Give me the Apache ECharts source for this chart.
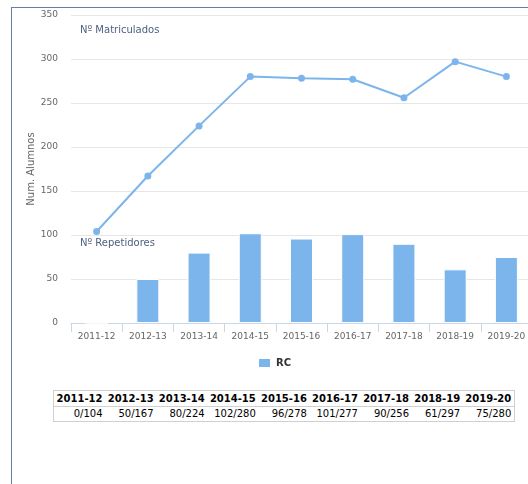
<!DOCTYPE html>
<html><head><meta charset="utf-8">
<script src="https://cdn.jsdelivr.net/npm/echarts@6/dist/echarts.min.js"></script>
<style>
html,body{margin:0;padding:0;background:#fff;}
#frame{position:absolute;left:11px;top:7px;width:540px;height:500px;border-left:1px solid #6080a8;border-top:1px solid #6080a8;}
#chart{position:absolute;left:0;top:0;width:528px;height:384px;}
#tbl{position:absolute;left:53px;top:390px;border-collapse:collapse;border:1px solid #d0d0d0;font-family:"DejaVu Sans",sans-serif;font-size:10px;color:#000;}
#tbl th{font-weight:bold;padding:0 2.6px;height:15px;line-height:15px;border-bottom:1px solid #d0d0d0;white-space:nowrap;}
#tbl td{text-align:right;padding:0 2.6px;height:14px;line-height:14px;white-space:nowrap;}
</style></head>
<body>
<div id="frame"></div>
<div id="chart"></div>
<table id="tbl"><thead><tr id="hrow"></tr></thead><tbody><tr id="drow"></tr></tbody></table>
<script>
var categories = ['2011-12','2012-13','2013-14','2014-15','2015-16','2016-17','2017-18','2018-19','2019-20'];
var repetidores = [0,50,80,102,96,101,90,61,75];
var matriculados = [104,167,224,280,278,277,256,297,280];
var yTicks = [0,50,100,150,200,250,300,350];

var hrow = document.getElementById('hrow'), drow = document.getElementById('drow');
categories.forEach(function(c,i){
  var th=document.createElement('th'); th.textContent=c; hrow.appendChild(th);
  var td=document.createElement('td'); td.textContent=repetidores[i]+'/'+matriculados[i]; drow.appendChild(td);
});

var chart = echarts.init(document.getElementById('chart'), null, {renderer:'canvas'});
var font = '"DejaVu Sans", sans-serif';
chart.setOption({
  animation:false,
  grid:{left:71,top:15,width:461,height:308,containLabel:false,outerBoundsMode:'none'},
  legend:{top:352,left:252,itemWidth:13,itemHeight:10,itemGap:5,icon:'rect',symbolKeepAspect:false,
    data:['RC'],textStyle:{fontFamily:font,fontSize:10,fontWeight:'bold',color:'#333'}},
  xAxis:{type:'category',data:categories,boundaryGap:true,
    axisLine:{lineStyle:{color:'#ccd6eb'}},
    axisTick:{show:true,length:9,lineStyle:{color:'#ccd6eb'}},
    axisLabel:{fontFamily:font,fontSize:9,color:'#666',margin:9,interval:0,hideOverlap:false},
    splitLine:{show:false}},
  yAxis:{type:'value',min:yTicks[0],max:yTicks[yTicks.length-1],interval:50,
    name:'Num. Alumnos',nameLocation:'middle',nameGap:35,nameRotate:90,nameMoveOverlap:false,
    nameTextStyle:{fontFamily:font,fontSize:10,color:'#666'},
    axisLine:{show:false},axisTick:{show:false},
    axisLabel:{fontFamily:font,fontSize:9,color:'#666',margin:13},
    splitLine:{lineStyle:{color:'#e6e6e6'}}},
  series:[
    {name:'RC',type:'bar',data:repetidores,barWidth:23,
      itemStyle:{color:'#7cb5ec',borderColor:'#fff',borderWidth:1}},
    {name:'Matriculados',type:'line',data:matriculados,symbol:'circle',symbolSize:7,
      lineStyle:{color:'#7cb5ec',width:2},itemStyle:{color:'#7cb5ec'}}
  ],
  graphic:[
    {type:'text',left:80,top:25,style:{text:'Nº Matriculados',fontFamily:font,fontSize:10,fill:'#4d6180'}},
    {type:'text',left:80,top:238,style:{text:'Nº Repetidores',fontFamily:font,fontSize:10,fill:'#4d6180'}}
  ]
});
</script>
</body></html>
